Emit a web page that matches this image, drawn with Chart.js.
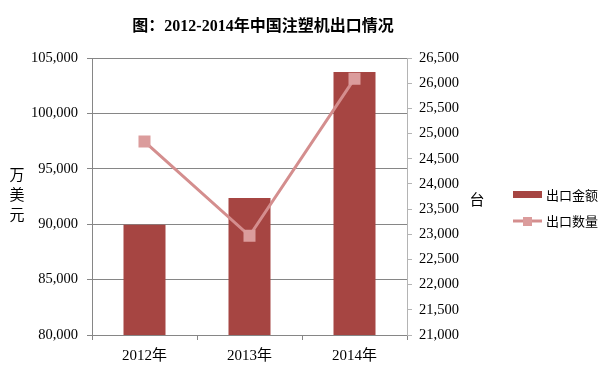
<!DOCTYPE html>
<html>
<head>
<meta charset="utf-8">
<script src="https://cdn.jsdelivr.net/npm/chart.js@4"></script>
<style>
  html, body { margin: 0; padding: 0; background: #fff; }
  #c { display: block; }
</style>
</head>
<body>
<canvas id="c" width="607" height="388"></canvas>
<script>
// categories and series
var years = ['2012年', '2013年', '2014年'];
var exportValue = [89960, 92360, 103730];   // 出口金额 (万美元)
var exportQty = [24840, 22970, 26090];      // 出口数量 (台)
var seriesNames = ['出口金额', '出口数量'];

var titleText = '图：2012-2014年中国注塑机出口情况';
var leftTitle = ['万', '美', '元'];
var rightTitle = '台';

var barColor = '#A64542';
var lineColor = '#D48E8E';
var markColor = '#DB9C9C';
var serif = '"Liberation Serif", "Times New Roman", serif';
var cjk = '"Noto Sans CJK SC", sans-serif';

// extra texts: title, axis titles, legend
var decorations = {
    id: 'decorations',
    afterDraw: function (chart) {
        var ctx = chart.ctx;
        ctx.save();
        ctx.fillStyle = '#000';
        ctx.textBaseline = 'middle';

        ctx.font = 'bold 16px ' + serif + ', ' + cjk;
        ctx.textAlign = 'center';
        ctx.fillText(titleText, 263, 27);

        ctx.font = '15px ' + cjk;
        leftTitle.forEach(function (ch, i) {
            ctx.fillText(ch, 17, 174 + i * 20);
        });
        ctx.fillText(rightTitle, 477, 199);

        // legend
        ctx.textAlign = 'left';
        ctx.font = '13px ' + cjk;
        ctx.fillStyle = barColor;
        ctx.fillRect(513, 191, 29, 7);
        ctx.fillStyle = '#000';
        ctx.fillText(seriesNames[0], 546, 195);

        ctx.strokeStyle = lineColor;
        ctx.lineWidth = 3;
        ctx.beginPath();
        ctx.moveTo(513, 221);
        ctx.lineTo(542, 221);
        ctx.stroke();
        ctx.fillStyle = markColor;
        ctx.fillRect(523, 217, 9, 9);
        ctx.fillStyle = '#000';
        ctx.fillText(seriesNames[1], 546, 221);
        ctx.restore();
    }
};

var ctx = document.getElementById('c').getContext('2d');
var chart = new Chart(ctx, {
    type: 'bar',
    data: {
        labels: years,
        datasets: [{
            type: 'line',
            label: seriesNames[1],
            data: exportQty,
            yAxisID: 'y1',
            borderColor: lineColor,
            borderWidth: 3,
            pointStyle: 'rect',
            pointRadius: 8.5,
            pointBackgroundColor: markColor,
            pointBorderColor: markColor,
            pointBorderWidth: 0,
            tension: 0,
            order: 0
        }, {
            label: seriesNames[0],
            data: exportValue,
            yAxisID: 'y',
            backgroundColor: barColor,
            barPercentage: 0.4,
            categoryPercentage: 1,
            order: 1
        }]
    },
    options: {
        responsive: false,
        animation: false,
        layout: { padding: { top: 58, left: 0, right: 0, bottom: 0 } },
        plugins: {
            legend: { display: false },
            title: { display: false },
            tooltip: { enabled: false }
        },
        scales: {
            x: {
                afterFit: function (s) { s.height = 53; },
                grid: {
                    offset: true,
                    drawOnChartArea: false,
                    color: '#868686',
                    tickLength: 5
                },
                border: { color: '#868686', width: 1 },
                ticks: {
                    color: '#000',
                    padding: 7,
                    font: { family: serif + ', ' + cjk, size: 15 }
                }
            },
            y: {
                position: 'left',
                min: 80000,
                max: 105000,
                afterFit: function (s) { s.width = 92; },
                grid: { color: '#868686', tickLength: 5 },
                border: { color: '#868686', width: 1 },
                ticks: {
                    stepSize: 5000,
                    color: '#000',
                    padding: 9,
                    font: { family: serif, size: 14.5 },
                    callback: function (v) { return v.toLocaleString('en-US'); }
                }
            },
            y1: {
                position: 'right',
                min: 21000,
                max: 26500,
                afterFit: function (s) { s.width = 200; },
                grid: { drawOnChartArea: false, color: '#B4B4B4', tickLength: 5 },
                border: { color: '#B4B4B4', width: 1 },
                ticks: {
                    stepSize: 500,
                    color: '#000',
                    padding: 7,
                    font: { family: serif, size: 14.5 },
                    callback: function (v) { return v.toLocaleString('en-US'); }
                }
            }
        }
    },
    plugins: [decorations]
});
</script>
</body>
</html>
